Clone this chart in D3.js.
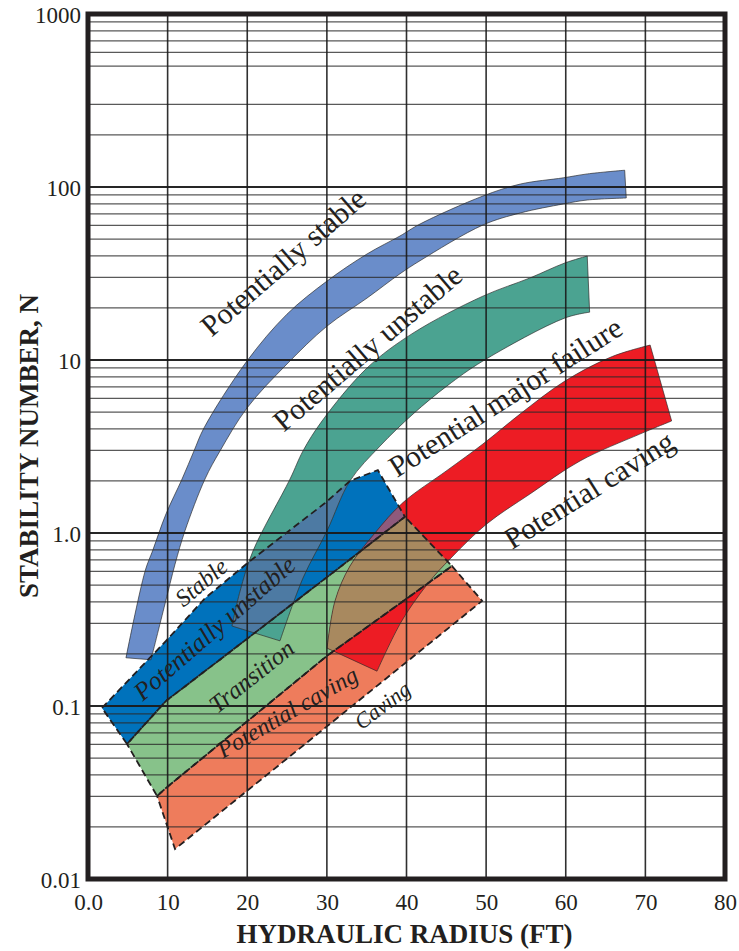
<!DOCTYPE html>
<html><head><meta charset="utf-8">
<script src="https://cdn.jsdelivr.net/npm/d3@7"></script>
<style>
html,body{margin:0;padding:0;background:#fff;}
svg{display:block;}
</style></head>
<body>
<svg id="chart" width="739" height="951"></svg>
<script>
// ---------- data (x = hydraulic radius ft, N = stability number) ----------
const xTickValues = [0,10,20,30,40,50,60,70,80];
const xTickLabels = ["0.0","10","20","30","40","50","60","70","80"];
const yLabelValues = [1000,100,10,1,0.1,0.01];
const yLabelTexts = ["1000","100","10","1.0","0.1","0.01"];
const yMissingGrid = [400];

// Potentially stable band
const potStableTop = [[4.77,0.19],[7.16,0.60],[8.16,0.80],[9.8,1.29],[11.81,2.05],[13.31,2.98],[14.57,4.05],[19.97,9.87],[24.99,18.4],[30.02,28.6],[35.04,41.0],[39.18,52.1],[41.7,61.1],[49.6,88.7],[54.3,104],[59.7,113],[62.7,119],[67.4,125]];
const potStableBottom = [[7.91,0.185],[9.67,0.389],[10.93,0.66],[12.18,1.03],[14.69,2.05],[16.58,2.98],[19.97,5.28],[24.99,9.48],[30.02,15.7],[35.04,22.8],[39.18,31.5],[41.7,37.5],[49.6,60.3],[54.3,70.8],[59.7,79.8],[62.7,84.1],[67.6,86.4]];
// Potentially unstable band
const potUnstableTop = [[18.08,0.29],[19.09,0.46],[20.72,0.787],[25.37,2.05],[27.0,2.98],[29.39,4.44],[35.04,8.99],[40.82,14.3],[49.6,23.4],[55.5,29.8],[59.9,36.4],[62.7,39.9]];
const potUnstableBottom = [[24.11,0.238],[27.0,0.549],[30.02,1.03],[32.9,2.0],[36.67,3.18],[40.82,4.87],[45.09,7.08],[49.6,9.87],[59.9,17.5],[63.0,18.9]];
// Potential caving band
const potCavingTop = [[30.02,0.216],[31.02,0.405],[32.9,0.644],[36.04,1.0],[39.56,1.5],[45.09,2.3],[49.6,3.27],[54.26,4.87],[59.9,7.56],[65.9,10.5],[70.6,12.2]];
const potCavingBottom = [[36.3,0.159],[39.4,0.31],[42.95,0.528],[45.46,0.707],[50.1,1.13],[55.5,1.68],[61.8,2.61],[69.3,3.73],[73.3,4.44]];

// Dashed zones (small-opening graph)
const zoneStableTop = [[1.76,0.0974],[9.8,0.238],[14.7,0.42],[20.35,0.689],[29.77,1.49],[32.9,2.0],[36.4,2.31]];
const zoneStableRight = [[39.8,1.24]];
const boundaryStableTransition = [[4.9,0.0603],[9.8,0.107],[20,0.245],[30,0.555],[39.8,1.24]];
const boundaryTransitionCaving = [[8.67,0.0302],[9.8,0.0336],[30.02,0.195],[45.71,0.644]];
const zoneCavingBottom = [[10.93,0.0149],[30.0,0.0762],[49.5,0.405]];

// Labels [text, x, N, angle, size, italic]
const bandLabels = [
  ["Potentially stable",24.6,36.4,-41,30,false],
  ["Potentially unstable",35.2,11.6,-40.5,30,false],
  ["Potential major failure",52.5,6.03,-32.5,30,false],
  ["Potential caving",63.0,1.75,-32,30,false],
  ["Stable",14.3,0.514,-40,24,true],
  ["Potentially unstable",15.95,0.279,-41,25.5,true],
  ["Transition",20.6,0.147,-38.5,24.5,true],
  ["Potential caving",25.1,0.0911,-30,24,true],
  ["Caving",37.05,0.1,-37,22,true]
];

// ---------- layout ----------
const svg = d3.select("#chart");
const L = 88, R = 725, T = 14, B = 879;
const x = d3.scaleLinear().domain([0,80]).range([L,R]);
const y = d3.scaleLog().domain([0.01,1000]).range([B,T]);

const ink = "#231f20";
const serif = "'Liberation Serif','Times New Roman',Times,serif";

const curve = d3.line().x(d=>x(d[0])).y(d=>y(d[1])).curve(d3.curveCatmullRom.alpha(0.5));
const straight = d3.line().x(d=>x(d[0])).y(d=>y(d[1]));

function bandPath(top, bottom){
  const a = curve(top);
  const b = curve(bottom.slice().reverse()).replace(/^M/,"L");
  return a + b + "Z";
}
function polyPath(pts){ return straight(pts) + "Z"; }

const stableZone = zoneStableTop.concat(zoneStableRight, boundaryStableTransition.slice().reverse());
const transitionZone = boundaryStableTransition.concat(boundaryTransitionCaving.slice().reverse());
const cavingZone = boundaryTransitionCaving.concat(zoneCavingBottom.slice().reverse());

const defs = svg.append("defs");
defs.append("clipPath").attr("id","clipStable").append("path").attr("d", polyPath(stableZone));
defs.append("clipPath").attr("id","clipTransition").append("path").attr("d", polyPath(transitionZone));
defs.append("clipPath").attr("id","clipPlot").append("rect").attr("x",L).attr("y",T).attr("width",R-L).attr("height",B-T);

const g = svg.append("g").attr("clip-path","url(#clipPlot)");

// zones
g.append("path").attr("d", polyPath(cavingZone)).attr("fill","#ee7c5c");
g.append("path").attr("d", polyPath(transitionZone)).attr("fill","#87c28a");
g.append("path").attr("d", polyPath(stableZone)).attr("fill","#0072bc");

// bands
const dStable = bandPath(potStableTop, potStableBottom);
const dUnstable = bandPath(potUnstableTop, potUnstableBottom);
const dCaving = bandPath(potCavingTop, potCavingBottom);

g.append("path").attr("d", dStable).attr("fill","#6a8dca");
g.append("path").attr("d", dUnstable).attr("fill","#4ba391");
g.append("path").attr("d", dCaving).attr("fill","#ed1c24");

// overlaps
g.append("path").attr("d", dUnstable).attr("fill","#4d7aa3").attr("clip-path","url(#clipStable)");
g.append("path").attr("d", dCaving).attr("fill","#a8895f").attr("clip-path","url(#clipTransition)");
g.append("path").attr("d", dCaving).attr("fill","#8f5a7c").attr("clip-path","url(#clipStable)");

// band outlines
[dStable,dUnstable,dCaving].forEach(d=>{
  g.append("path").attr("d", d).attr("fill","none").attr("stroke","#2a2a2a").attr("stroke-width",0.9).attr("stroke-opacity",0.75);
});

// grid
const gridVals = [];
for (let e=-2; e<=2; e++) for (let k=1;k<=9;k++){ const v=+(k*Math.pow(10,e)).toPrecision(3); if(!yMissingGrid.includes(v)) gridVals.push(v); }
gridVals.push(1000);
const gridG = svg.append("g");
gridG.selectAll("line.h").data(gridVals).join("line")
  .attr("x1",L).attr("x2",R).attr("y1",d=>y(d)).attr("y2",d=>y(d))
  .attr("stroke", d=> yLabelValues.includes(d) ? "#1a1a1a" : "#2a2a2a")
  .attr("stroke-opacity", d=> yLabelValues.includes(d) ? 0.95 : 0.78)
  .attr("stroke-width", d=> yLabelValues.includes(d) ? 1.8 : 1.25);
gridG.selectAll("line.v").data(xTickValues.slice(1,-1)).join("line")
  .attr("x1",d=>x(d)).attr("x2",d=>x(d)).attr("y1",T).attr("y2",B)
  .attr("stroke","#1a1a1a").attr("stroke-width",1.6).attr("stroke-opacity",0.9);

// dashed zone outlines
const dashG = svg.append("g").attr("fill","none").attr("stroke",ink).attr("stroke-width",1.8).attr("stroke-dasharray","7,4");
dashG.append("path").attr("d", polyPath(stableZone));
dashG.append("path").attr("d", polyPath(transitionZone));
dashG.append("path").attr("d", polyPath(cavingZone));

// frame
svg.append("rect").attr("x",L).attr("y",T).attr("width",R-L).attr("height",B-T)
  .attr("fill","none").attr("stroke",ink).attr("stroke-width",5);

// axes labels
const xAxis = d3.axisBottom(x).tickValues(xTickValues).tickFormat((d,i)=>xTickLabels[i]).tickSize(0).tickPadding(0);
const xa = svg.append("g").attr("transform",`translate(0,${B})`).call(xAxis);
xa.select(".domain").remove();
xa.selectAll("text").attr("font-family",serif).attr("font-size",23).attr("fill",ink).attr("dy",null).attr("y",31);

const yAxis = d3.axisLeft(y).tickValues(yLabelValues).tickFormat((d,i)=>yLabelTexts[i]).tickSize(0).tickPadding(0);
const ya = svg.append("g").attr("transform",`translate(${L-7},0)`).call(yAxis);
ya.select(".domain").remove();
ya.selectAll("text").attr("font-family",serif).attr("font-size",23).attr("fill",ink).attr("x",0).attr("dy","0.35em");

svg.append("text").attr("x",(L+R)/2-2).attr("y",943).attr("text-anchor","middle")
  .attr("font-family",serif).attr("font-weight","bold").attr("font-size",27).attr("fill",ink)
  .text("HYDRAULIC RADIUS (FT)");
svg.append("text").attr("transform",`translate(38,${446}) rotate(-90)`).attr("text-anchor","middle")
  .attr("font-family",serif).attr("font-weight","bold").attr("font-size",27).attr("fill",ink)
  .text("STABILITY NUMBER, N");

// band labels
svg.append("g").selectAll("text").data(bandLabels).join("text")
  .attr("transform", d=>`translate(${x(d[1])},${y(d[2])}) rotate(${d[3]})`)
  .attr("text-anchor","middle").attr("dy","0.3em")
  .attr("font-family",serif).attr("font-size",d=>d[4]).attr("font-style",d=>d[5]?"italic":"normal")
  .attr("fill",ink).text(d=>d[0]);
</script>
</body></html>
